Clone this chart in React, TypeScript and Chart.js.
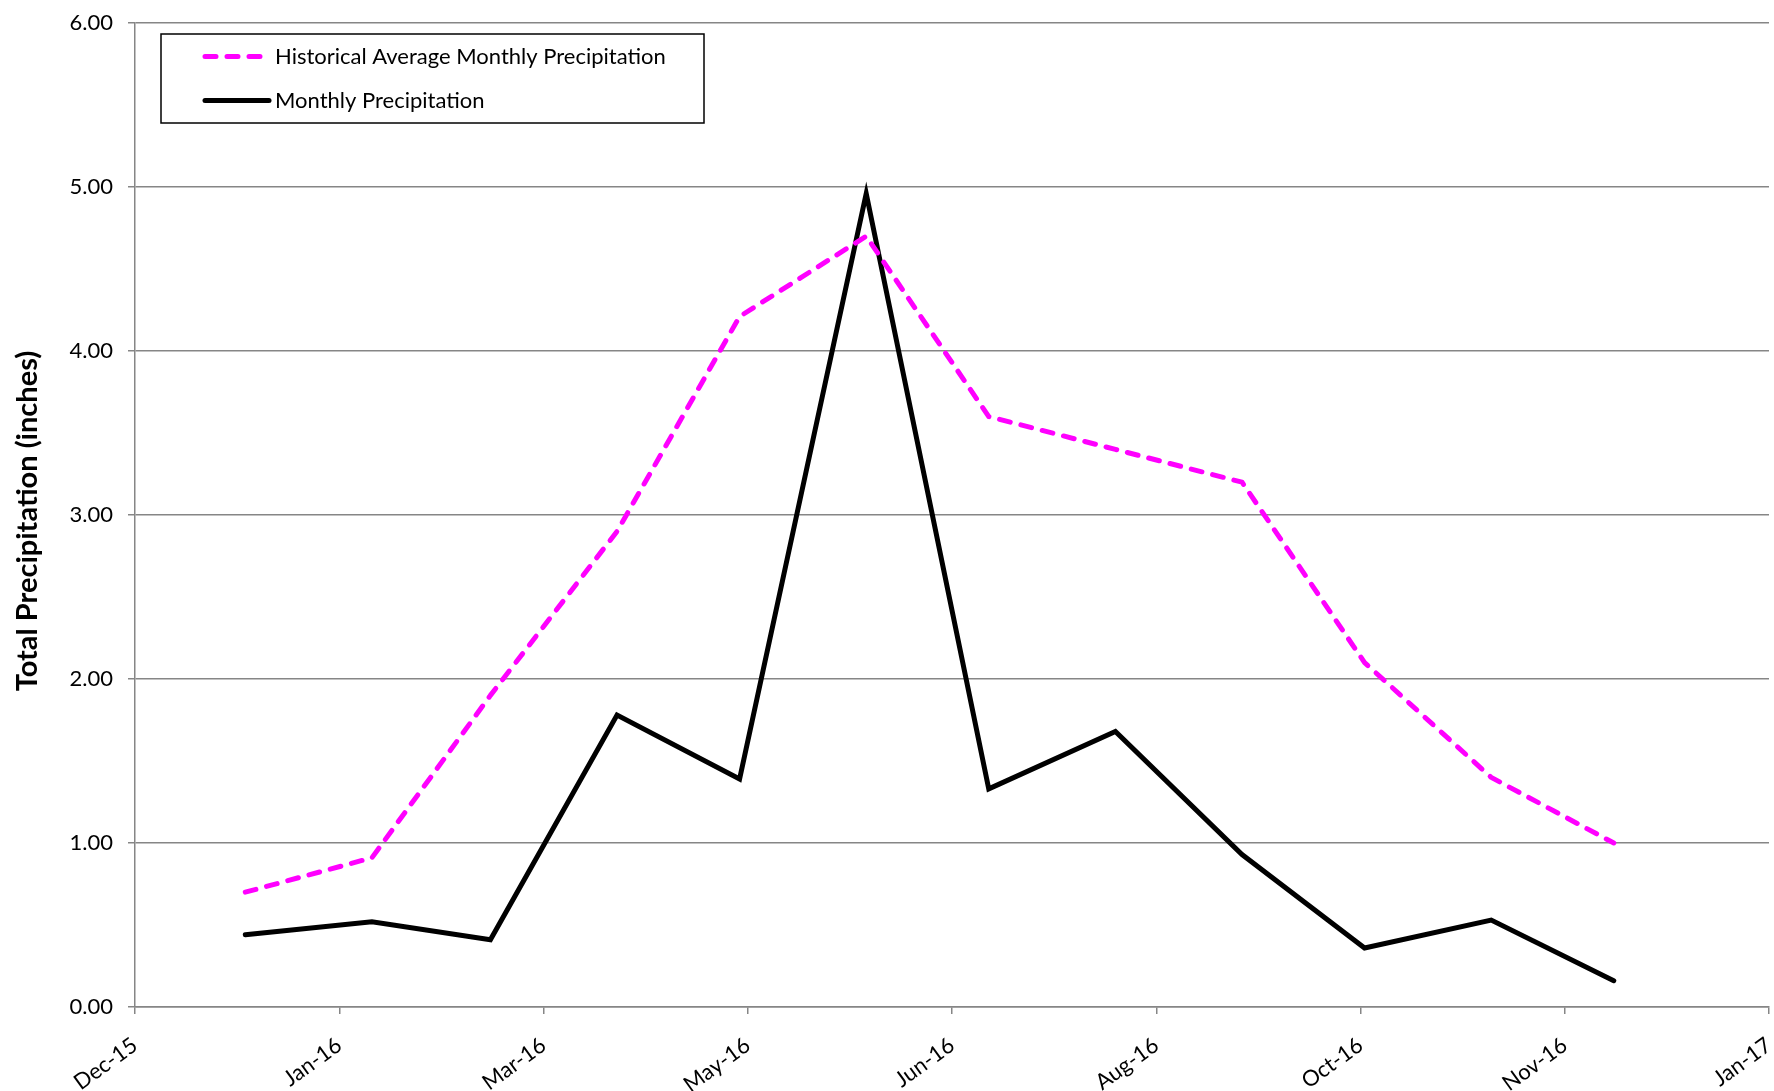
import React, { useEffect, useRef } from 'react';
import { Chart, registerables } from 'chart.js';

Chart.register(...registerables);

// ---- Data ----
const monthDates = [
  '2016-01-01', '2016-02-01', '2016-03-01', '2016-04-01', '2016-05-01', '2016-06-01',
  '2016-07-01', '2016-08-01', '2016-09-01', '2016-10-01', '2016-11-01', '2016-12-01',
];
const historicalAverage = [0.70, 0.91, 1.90, 2.90, 4.21, 4.70, 3.60, 3.40, 3.20, 2.10, 1.40, 1.00];
const monthlyPrecipitation = [0.44, 0.52, 0.41, 1.78, 1.39, 4.96, 1.33, 1.68, 0.93, 0.36, 0.53, 0.16];

const axisStartDate = '2015-12-05';
const axisSpanDays = 400;
const axisStepDays = 50;
const xTickLabels = ['Dec-15', 'Jan-16', 'Mar-16', 'May-16', 'Jun-16', 'Aug-16', 'Oct-16', 'Nov-16', 'Jan-17'];
const yMin = 0;
const yMax = 6;
const yStep = 1;

const seriesLabels = ['Historical Average Monthly Precipitation', 'Monthly Precipitation'];
const yAxisTitle = 'Total Precipitation (inches)';

const FONT = 'Lato, "Open Sans", sans-serif';
const GRID = '#868686';

const dayOffset = (d: string) => (Date.parse(d) - Date.parse(axisStartDate)) / 86400000;

const legendPlugin = {
  id: 'boxLegend',
  afterDraw(chart: any) {
    const ctx = chart.ctx as CanvasRenderingContext2D;
    const a = chart.chartArea;
    const x0 = a.left + 26;
    const y0 = a.top + 11;
    const w = 543;
    const h = 89;
    ctx.save();
    ctx.fillStyle = '#ffffff';
    ctx.fillRect(x0, y0, w, h);
    ctx.strokeStyle = '#000000';
    ctx.lineWidth = 1.5;
    ctx.setLineDash([]);
    ctx.strokeRect(x0, y0, w, h);
    chart.data.datasets.forEach((ds: any, i: number) => {
      const y = y0 + 22.6 + i * 44;
      ctx.beginPath();
      ctx.setLineDash(ds.borderDash || []);
      ctx.lineCap = ds.borderCapStyle || 'butt';
      ctx.lineWidth = ds.borderWidth;
      ctx.strokeStyle = ds.borderColor;
      ctx.moveTo(x0 + 44, y);
      ctx.lineTo(x0 + 108, y);
      ctx.stroke();
      ctx.setLineDash([]);
      ctx.fillStyle = '#000000';
      ctx.font = `22px ${FONT}`;
      ctx.textAlign = 'left';
      ctx.textBaseline = 'middle';
      ctx.fillText(ds.label, x0 + 114, y);
    });
    // y-axis title
    ctx.save();
    ctx.translate(28, (a.top + a.bottom) / 2 + 6);
    ctx.rotate(-Math.PI / 2);
    ctx.fillStyle = '#000000';
    ctx.font = `bold 29px ${FONT}`;
    ctx.textAlign = 'center';
    ctx.textBaseline = 'middle';
    ctx.fillText(yAxisTitle, 0, 0);
    ctx.restore();
    ctx.restore();
  },
};

export default function App() {
  const canvasRef = useRef<HTMLCanvasElement | null>(null);

  useEffect(() => {
    const canvas = canvasRef.current;
    if (!canvas) return;
    const xs = monthDates.map(dayOffset);
    const chart = new Chart(canvas, {
      type: 'line',
      data: {
        datasets: [
          {
            label: seriesLabels[0],
            data: xs.map((x, i) => ({ x, y: historicalAverage[i] })),
            borderColor: '#FF00FF',
            backgroundColor: '#FF00FF',
            borderWidth: 5,
            borderDash: [11, 11],
            borderCapStyle: 'round',
            borderJoinStyle: 'round',
            pointRadius: 0,
            tension: 0,
          },
          {
            label: seriesLabels[1],
            data: xs.map((x, i) => ({ x, y: monthlyPrecipitation[i] })),
            borderColor: '#000000',
            backgroundColor: '#000000',
            borderWidth: 5,
            borderCapStyle: 'round',
            borderJoinStyle: 'miter',
            pointRadius: 0,
            tension: 0,
          },
        ],
      },
      options: {
        animation: false,
        responsive: false,
        devicePixelRatio: 1,
        layout: { padding: { top: 23, right: 5, left: 0, bottom: 0 } },
        plugins: {
          legend: { display: false },
          tooltip: { enabled: false },
        },
        scales: {
          x: {
            type: 'linear',
            min: 0,
            max: axisSpanDays,
            ticks: {
              stepSize: axisStepDays,
              autoSkip: false,
              minRotation: 36,
              maxRotation: 36,
              color: '#000000',
              padding: 18,
              font: { family: FONT, size: 22 },
              callback: (v: any) => xTickLabels[Math.round(Number(v) / axisStepDays)] ?? '',
            },
            grid: { drawOnChartArea: false, color: GRID, lineWidth: 1.5, tickLength: 7 },
            border: { color: GRID, width: 1.5 },
            afterFit: (s: any) => {
              s.height = 84;
              s.paddingLeft = 0;
              s.paddingRight = 0;
            },
          },
          y: {
            min: yMin,
            max: yMax,
            ticks: {
              stepSize: yStep,
              color: '#000000',
              padding: 15,
              font: { family: FONT, size: 22 },
              callback: (v: any) => Number(v).toFixed(2),
            },
            grid: { color: GRID, lineWidth: 1.5, tickLength: 7 },
            border: { color: GRID, width: 1.5 },
            title: { display: false, text: yAxisTitle },
            afterFit: (s: any) => {
              s.width = 135;
              s.paddingTop = 0;
              s.paddingBottom = 0;
            },
          },
        },
      },
      plugins: [legendPlugin],
    } as any);
    return () => chart.destroy();
  }, []);

  return (
    <div style={{ position: 'absolute', left: 0, top: 0, width: 1774, height: 1091, background: '#ffffff' }}>
      <canvas ref={canvasRef} width={1774} height={1091} style={{ width: 1774, height: 1091 }} />
    </div>
  );
}
